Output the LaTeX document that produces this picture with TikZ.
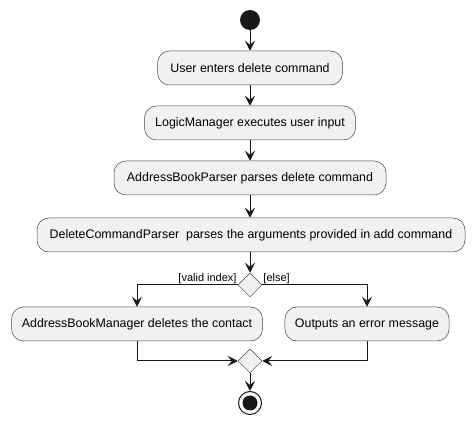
\documentclass[tikz,border=0pt]{standalone}
\usepackage{fontspec}
\setmainfont{Liberation Sans}
\usetikzlibrary{arrows.meta, shapes.geometric, positioning}
\definecolor{actfill}{HTML}{F1F1F1}
\definecolor{actline}{HTML}{181818}
\tikzstyle{action} = [rectangle, rounded corners=12pt, draw=actline!80, fill=actfill, minimum height=34pt, inner xsep=10pt, font=\fontsize{12.4}{14}\selectfont, line width=0.5pt]
\tikzstyle{branch} = [diamond, draw=actline!80, fill=actfill, minimum width=24pt, minimum height=24pt, inner sep=0pt, line width=0.5pt]
\tikzstyle{guard} = [font=\fontsize{11}{13}\selectfont, inner sep=1pt]
\tikzstyle{arrow} = [-{Stealth[length=10pt, width=10pt, inset=4pt]}, line width=1pt, draw=actline]

\begin{document}
\begin{tikzpicture}[x=1pt, y=-1pt]
    \useasboundingbox (0,0) rectangle (475,425);

    % Start
    \node[circle, fill=actline, minimum size=20pt, inner sep=0pt] (start) at (250,20) {};

    % Actions
    \node[action, minimum width=185pt] (enter) at (250,68) {User enters delete command};
    \node[action, minimum width=211pt] (logic) at (250,123) {LogicManager executes user input};
    \node[action, minimum width=272pt] (abparse) at (250,178) {AddressBookParser parses delete command};
    \node[action, minimum width=428pt] (dcparse) at (251,235) {DeleteCommandParser\ \ parses the arguments provided in add command};

    % Decision
    \node[branch] (check) at (250,285) {};
    \node[action, minimum width=251pt] (delete) at (137,324) {AddressBookManager deletes the contact};
    \node[action, minimum width=159pt] (error) at (367,324) {Outputs an error message};

    % Merge and end
    \node[branch] (merge) at (250,361) {};
    \node[circle, draw=actline, line width=1pt, fill=white, minimum size=23pt, inner sep=0pt,
          path picture={\fill[actline] (path picture bounding box.center) circle (7.5pt);}] (stop) at (250,403) {};

    % Flow
    \draw[arrow] (start) -- (enter);
    \draw[arrow] (enter) -- (logic);
    \draw[arrow] (logic) -- (abparse);
    \draw[arrow] (abparse) -- (abparse |- dcparse.north);
    \draw[arrow] (dcparse.south -| check) -- (check);
    \draw[arrow] (check.west) -| (delete.north);
    \draw[arrow] (check.east) -| (error.north);
    \node[guard, above left] at (check.west) {[valid index]};
    \node[guard, above right] at (check.east) {[else]};
    \draw[arrow] (delete.south) |- (merge.west);
    \draw[arrow] (error.south) |- (merge.east);
    \draw[arrow] (merge) -- (stop);
\end{tikzpicture}
\end{document}
